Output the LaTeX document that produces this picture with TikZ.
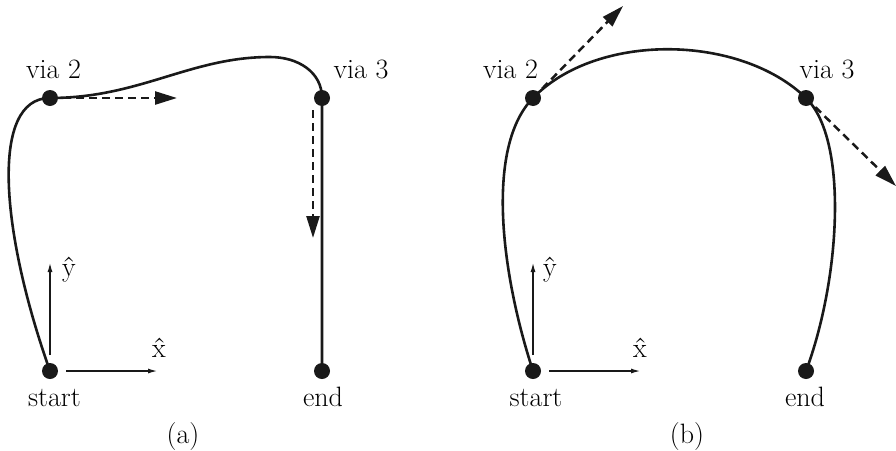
\documentclass[tikz,border=0pt]{standalone}
\usepackage{fontspec}
\usetikzlibrary{arrows.meta}
\begin{document}
\begin{tikzpicture}[x=1pt,y=-1pt,
  dot/.style={circle,fill=black!90,minimum size=16pt,inner sep=0pt},
  lbl/.style={font=\fontsize{28}{32}\selectfont,anchor=base,inner sep=0pt},
  curve/.style={line width=2.6pt,black!90},
  vel/.style={line width=2.5pt,black!90,dash pattern=on 8pt off 5pt,-{Triangle[length=22pt,width=13pt]}},
  axis/.style={line width=1.1pt,black!90,-{Latex[length=9pt,width=5pt]}}]
\useasboundingbox (0,0) rectangle (896,450);
% ---------- panel (a)
\node[dot] (sa) at (50,371) {};
\node[dot] (v2a) at (50,98) {};
\node[dot] (v3a) at (322,98) {};
\node[dot] (ea) at (322,371) {};
\coordinate (pka) at (270,57);
\draw[curve] (sa.center) .. controls (0,230) and (-10,98) .. (v2a.center)
  .. controls (140,98) and (190,57) .. (pka)
  .. controls (298,57) and (322,72) .. (v3a.center) -- (ea.center);
\coordinate (ta2) at (177,98);
\coordinate (fa3) at (313,110);
\coordinate (ta3) at (313,238);
\draw[vel] (v2a.center) -- (ta2);
\draw[vel] (fa3) -- (ta3);
\coordinate (ay0) at (50,355); \coordinate (ay1) at (50,263);
\coordinate (ax0) at (66,371); \coordinate (ax1) at (157,371);
\draw[axis] (ay0) -- (ay1);
\draw[axis] (ax0) -- (ax1);
\node[lbl] (lv2a) at (53.5,78) {via 2};
\node[lbl] (lv3a) at (361,78) {via 3};
\node[lbl] (lsa) at (54.5,406) {start};
\node[lbl] (lea) at (323,406) {end};
\node[lbl] (lya) at (69,276) {\^{y}};
\node[lbl] (lxa) at (159,357) {\^{x}};
\node[lbl] (capa) at (183,443) {(a)};
% ---------- panel (b)
\node[dot] (sb) at (533,371) {};
\node[dot] (v2b) at (533,98) {};
\node[dot] (v3b) at (806,98) {};
\node[dot] (eb) at (806,371) {};
\draw[curve] (sb.center) .. controls (500,270) and (486,146) .. (v2b.center)
  .. controls (597,32) and (740,34) .. (v3b.center)
  .. controls (849,140) and (840,280) .. (eb.center);
\coordinate (tb2) at (623,6);
\coordinate (tb3) at (896,186);
\draw[vel] (v2b.center) -- (tb2);
\draw[vel] (v3b.center) -- (tb3);
\coordinate (by0) at (533,355); \coordinate (by1) at (533,263);
\coordinate (bx0) at (549,371); \coordinate (bx1) at (640,371);
\draw[axis] (by0) -- (by1);
\draw[axis] (bx0) -- (bx1);
\node[lbl] (lv2b) at (510.5,78) {via 2};
\node[lbl] (lv3b) at (827,78) {via 3};
\node[lbl] (lsb) at (536,406) {start};
\node[lbl] (leb) at (805,406) {end};
\node[lbl] (lyb) at (550,276) {\^{y}};
\node[lbl] (lxb) at (640,357) {\^{x}};
\node[lbl] (capb) at (687,443) {(b)};
\end{tikzpicture}
\end{document}
